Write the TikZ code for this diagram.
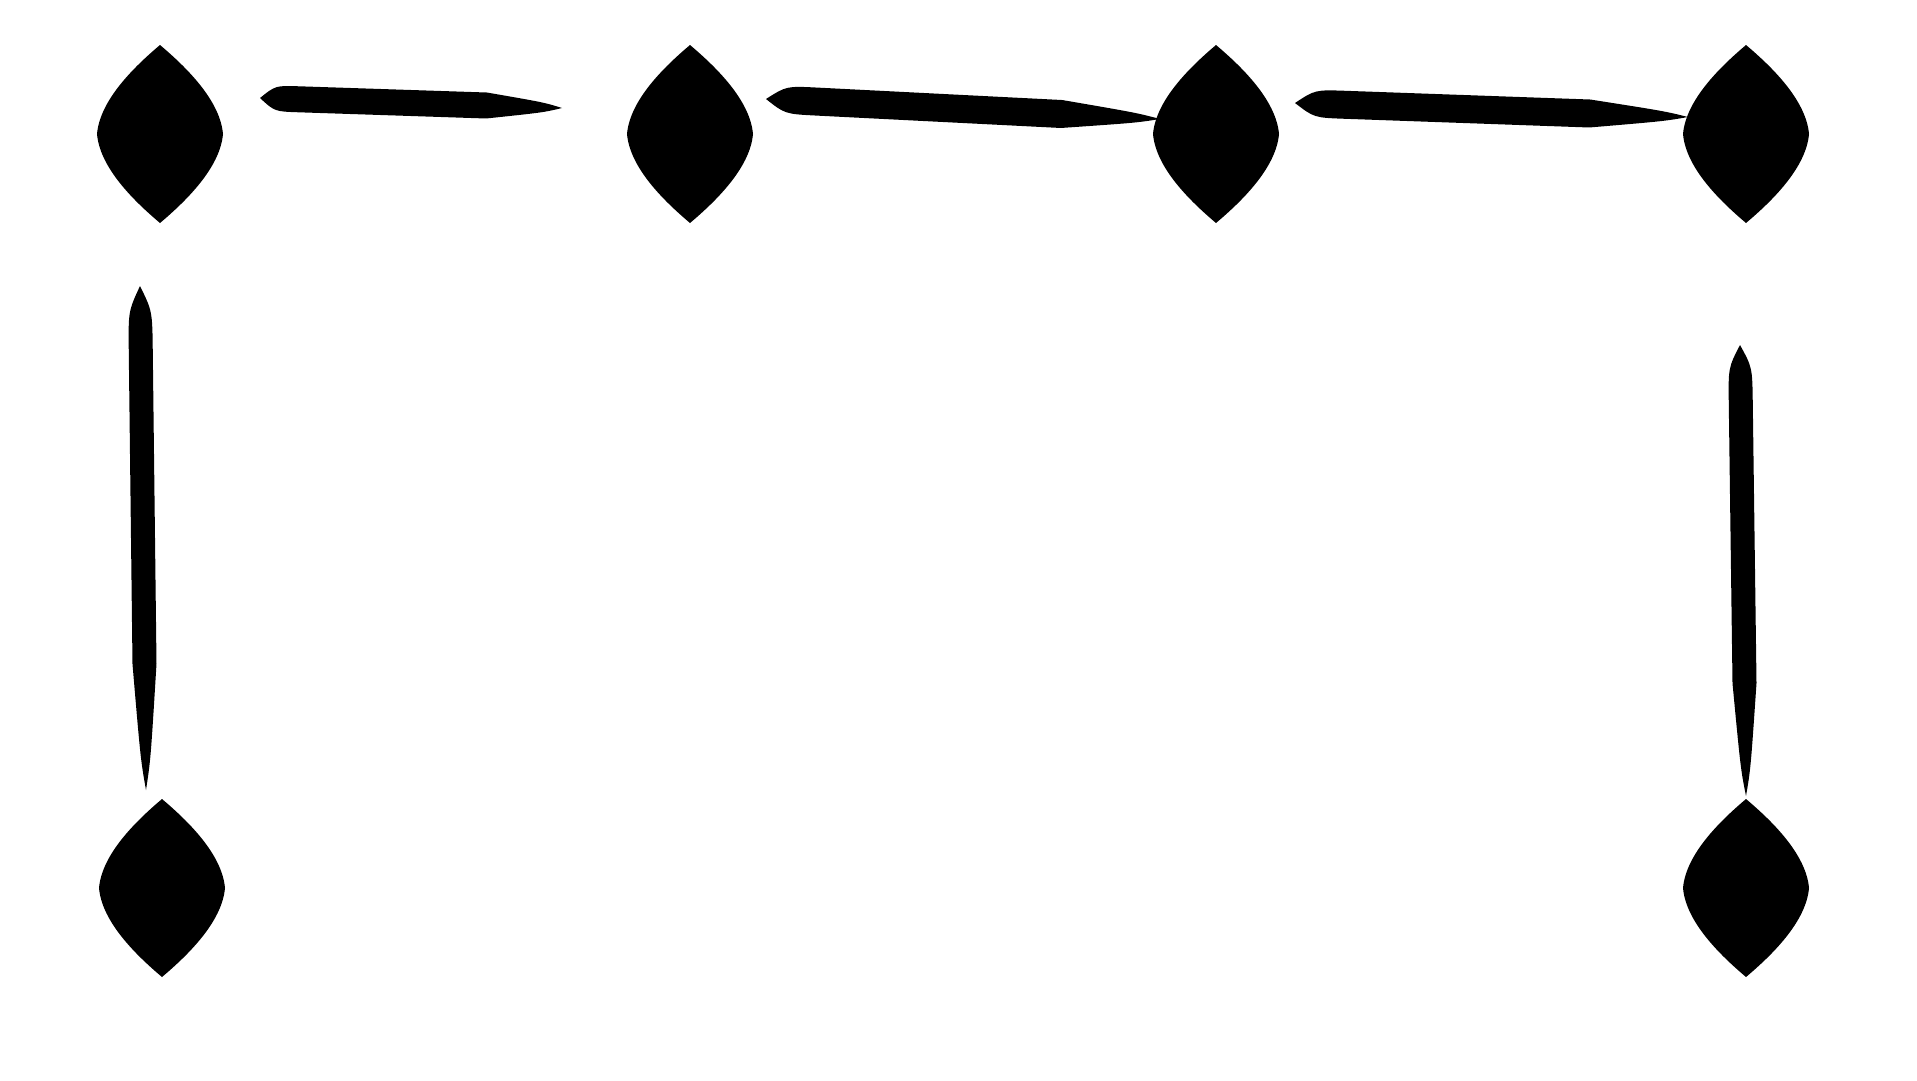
\documentclass[tikz,border=0pt]{standalone}
\usetikzlibrary{calc}
\begin{document}
\begin{tikzpicture}[x=1pt,y=-1pt,
  vtx/.style={minimum width=126pt, minimum height=178pt, inner sep=0pt, outer sep=0pt, draw=none},
  brush/.style n args={4}{fill=black, draw=none, to path={
    let \p1=($(\tikztostart)+#1$), \p2=($(\tikztotarget)+#2$) in
    (\p1) .. controls ($(\p1)!0.05!(\p2)!#3!90:(\p2)$) .. ($(\p1)!0.13!(\p2)!#3!90:(\p2)$)
    -- ($(\p1)!0.75!(\p2)!#3!90:(\p2)$)
    .. controls ($(\p1)!0.94!(\p2)!#4!90:(\p2)$) .. (\p2)
    .. controls ($(\p1)!0.94!(\p2)!#4!-90:(\p2)$) .. ($(\p1)!0.75!(\p2)!#3!-90:(\p2)$)
    -- ($(\p1)!0.13!(\p2)!#3!-90:(\p2)$)
    .. controls ($(\p1)!0.05!(\p2)!#3!-90:(\p2)$) .. (\p1) -- cycle}}
]
\fill[white] (0,0) rectangle (1917,1080);
\useasboundingbox (0,0) rectangle (1917,1080);

\node[vtx] (n1) at (160,134) {};
\node[vtx] (n2) at (690,134) {};
\node[vtx] (n3) at (1216,134) {};
\node[vtx] (n4) at (1746,134) {};
\node[vtx] (n5) at (162,888) {};
\node[vtx] (n6) at (1746,888) {};

\foreach \n in {n1,n2,n3,n4,n5,n6}
  \fill[black] (\n.north) .. controls ($(\n.north)+(26,22)$) and ($(\n.east)+(-3,-34)$) .. (\n.east)
        .. controls ($(\n.east)+(-3,34)$) and ($(\n.south)+(26,-22)$) .. (\n.south)
        .. controls ($(\n.south)+(-26,-22)$) and ($(\n.west)+(3,34)$) .. (\n.west)
        .. controls ($(\n.west)+(3,-34)$) and ($(\n.north)+(-26,22)$) .. (\n.north) -- cycle;

\draw[brush={(100,-36)}{(-128,-26)}{13pt}{5pt}] (n1) to (n2);
\draw[brush={(76,-35)}{(-56,-15)}{14pt}{5pt}] (n2) to (n3);
\draw[brush={(79,-31)}{(-58,-17)}{14pt}{5pt}] (n3) to (n4);
\draw[brush={(-20,152)}{(-16,-98)}{12pt}{5pt}] (n1) to (n5);
\draw[brush={(-6,211)}{(0,-92)}{12pt}{5pt}] (n4) to (n6);
\end{tikzpicture}
\end{document}
